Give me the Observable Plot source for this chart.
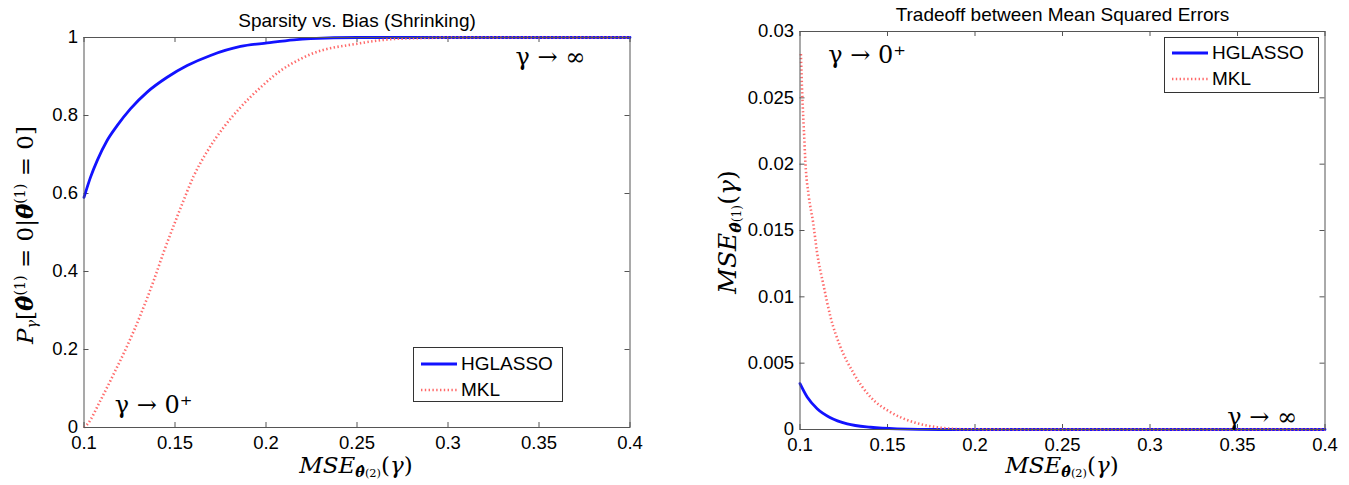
<!DOCTYPE html>
<html>
<head>
<meta charset="utf-8">
<script src="https://cdn.jsdelivr.net/npm/d3@7"></script>
<script src="https://cdn.jsdelivr.net/npm/@observablehq/plot@0.6"></script>
<style>
  body { margin: 0; background: #fff; }
  #wrap { position: relative; width: 1349px; height: 485px; overflow: hidden; background: #fff; }
  #wrap > svg { position: absolute; top: 0; }
  .math { position: absolute; font-family: "DejaVu Serif", "Liberation Serif", serif; font-style: italic;
          font-size: 23px; white-space: nowrap; line-height: 1; color: #000; transform: translate(-50%, -50%); }
  .math.rot { transform: translate(-50%, -50%) rotate(-90deg); }
  .math sub, .math sup { font-size: 0.62em; line-height: 0; }
  .math sub { vertical-align: -0.3em; }
  .math sup { vertical-align: 0.55em; }
  .up { font-style: normal; }
  .legend { position: absolute; border: 1px solid #333; background: #fff; box-sizing: border-box;
            font-family: "Liberation Sans", Arial, sans-serif; font-size: 19px; color: #000; }
  .legend .row { position: absolute; left: 7px; height: 24px; display: flex; align-items: center; }
  .legend .row svg { display: block; margin-right: 4px; }
</style>
</head>
<body>
<div id="wrap"></div>
<script>
// ---------- data ----------
const seriesNames = ["HGLASSO", "MKL"];
const xTicks = [0.1, 0.15, 0.2, 0.25, 0.3, 0.35, 0.4];
const leftYTicks = [0, 0.2, 0.4, 0.6, 0.8, 1];
const rightYTicks = [0, 0.005, 0.01, 0.015, 0.02, 0.025, 0.03];

const leftTitle = "Sparsity vs. Bias (Shrinking)";
const rightTitle = "Tradeoff between Mean Squared Errors";

// Left panel: P_gamma vs MSE
const leftHglassoX = [0.1, 0.1036, 0.1073, 0.1127, 0.1182, 0.1255, 0.1347, 0.1457, 0.1567, 0.1695, 0.186, 0.2007, 0.2153, 0.2245, 0.25, 0.3, 0.35, 0.4];
const leftHglassoY = [0.59, 0.642, 0.685, 0.736, 0.774, 0.817, 0.860, 0.898, 0.928, 0.954, 0.977, 0.986, 0.994, 0.997, 1, 1, 1, 1];
const leftMklX = [0.1, 0.1018, 0.109, 0.1164, 0.1237, 0.131, 0.1384, 0.1438, 0.1503, 0.153, 0.1603, 0.1677, 0.1768, 0.186, 0.197, 0.208, 0.219, 0.2245, 0.25, 0.27, 0.29, 0.3, 0.35, 0.4];
const leftMklY = [0, 0.008, 0.069, 0.138, 0.209, 0.288, 0.378, 0.450, 0.530, 0.562, 0.645, 0.708, 0.770, 0.821, 0.872, 0.915, 0.945, 0.957, 0.984, 0.996, 0.999, 1, 1, 1];

// Right panel: MSE theta(1) vs MSE theta(2)
const rightHglassoX = [0.1, 0.1041, 0.1098, 0.1174, 0.127, 0.1403, 0.1555, 0.18, 0.25, 0.3, 0.35, 0.4];
const rightHglassoY = [0.00346, 0.00245, 0.00157, 0.00089, 0.00043, 0.00017, 0.00005, 0, 0, 0, 0, 0];
const rightMklX = [0.1005, 0.1013, 0.1022, 0.1031, 0.105, 0.1075, 0.1098, 0.1136, 0.1174, 0.1231, 0.1307, 0.1403, 0.1517, 0.165, 0.1784, 0.1936, 0.25, 0.3, 0.35, 0.4];
const rightMklY = [0.0283, 0.0252, 0.02265, 0.0201, 0.0176, 0.0156, 0.0133, 0.01078, 0.0085, 0.00623, 0.00422, 0.00245, 0.00131, 0.00055, 0.00017, 0.00002, 0, 0, 0, 0];

// Annotations (data coordinates)
const leftNotes = [{x: 0.3563, y: 0.949, t: "γ → ∞"}, {x: 0.1382, y: 0.056, t: "γ → 0⁺"}];
const rightNotes = [{x: 0.1384, y: 0.0282, t: "γ → 0⁺"}, {x: 0.3641, y: 0.0009, t: "γ → ∞"}];

// ---------- styles ----------
const BLUE = "#1212ff";
const RED = "#ff6a6a";
const DASH = "1.4,2.4";
const REDW = 2.6;
const SANS = "'Liberation Sans', Arial, Helvetica, sans-serif";

function rows(xs, ys, s) { return xs.map((x, i) => ({x, y: ys[i], s})); }

function panel(cfg) {
  const H = 485;
  const innerW = cfg.width - cfg.ml - cfg.mr;
  const innerH = H - cfg.mt - cfg.mb;
  const fmt = d => String(d);
  const tk = "#555";
  const TL = 5;
  return Plot.plot({
    width: cfg.width, height: H,
    marginLeft: cfg.ml, marginRight: cfg.mr, marginTop: cfg.mt, marginBottom: cfg.mb,
    x: {domain: [0.1, 0.4]},
    y: {domain: cfg.yDomain},
    style: {fontFamily: SANS, fontSize: "18.5px", color: "#000", background: "transparent", overflow: "visible"},
    marks: [
      Plot.tickX(xTicks, {x: d => d, insetTop: innerH - TL, stroke: tk}),
      Plot.tickX(xTicks, {x: d => d, insetBottom: innerH - TL, stroke: tk}),
      Plot.tickY(cfg.yTicks, {y: d => d, insetRight: innerW - TL, stroke: tk}),
      Plot.tickY(cfg.yTicks, {y: d => d, insetLeft: innerW - TL, stroke: tk}),
      Plot.axisX({ticks: xTicks, tickSize: 0, tickPadding: 8, tickFormat: fmt, label: null, fill: "#000"}),
      Plot.axisY({ticks: cfg.yTicks, tickSize: 0, tickPadding: 6, tickFormat: fmt, label: null, fill: "#000"}),
      Plot.line(cfg.blue, {x: "x", y: "y", stroke: BLUE, strokeWidth: 2.8, curve: "monotone-x"}),
      Plot.line(cfg.red, {x: "x", y: "y", stroke: RED, strokeWidth: REDW, strokeDasharray: DASH, strokeLinecap: "butt", curve: "monotone-x"}),
      Plot.frame({stroke: "#555", strokeWidth: 1}),
      Plot.text(cfg.notes, {x: "x", y: "y", text: "t", fontFamily: "'DejaVu Serif', 'Liberation Serif', serif", fontSize: 24, fill: "#000"}),
      Plot.text([cfg.title], {frameAnchor: "top", lineAnchor: "bottom", dy: -11, fontSize: 19, fill: "#000"})
    ]
  });
}

const wrap = document.getElementById("wrap");

const left = panel({
  width: 675, ml: 83.5, mr: 45.5, mt: 37, mb: 58,
  yDomain: [0, 1], yTicks: leftYTicks,
  blue: rows(leftHglassoX, leftHglassoY, seriesNames[0]),
  red: rows(leftMklX, leftMklY, seriesNames[1]),
  notes: leftNotes, title: leftTitle
});
left.style.left = "0px";
wrap.appendChild(left);

const right = panel({
  width: 674, ml: 124.5, mr: 24.5, mt: 31, mb: 56,
  yDomain: [0, 0.03], yTicks: rightYTicks,
  blue: rows(rightHglassoX, rightHglassoY, seriesNames[0]),
  red: rows(rightMklX, rightMklY, seriesNames[1]),
  notes: rightNotes, title: rightTitle
});
right.style.left = "675px";
wrap.appendChild(right);

// ---------- axis labels (math) ----------
function addLabel(html, x, y, rot, size) {
  const d = document.createElement("div");
  d.className = "math" + (rot ? " rot" : "");
  d.style.left = x + "px";
  d.style.top = y + "px";
  if (size) d.style.fontSize = size + "px";
  d.innerHTML = html;
  wrap.appendChild(d);
}
const th = (mark) => "<b>θ" + mark + "</b>";
addLabel("P<sub>γ</sub><span class='up'>[</span>" + th("\u0302") + "<sup class='up'>(1)</sup><span class='up'> = 0|</span>" + th("\u0304") + "<sup class='up'>(1)</sup><span class='up'> = 0]</span>", 25, 235, true);
addLabel("MSE<sub>" + th("\u0302") + "<span class='up' style='font-size:0.8em'>(2)</span></sub><span class='up'>(</span>γ<span class='up'>)</span>", 356, 465, false);
addLabel("MSE<sub>" + th("\u0302") + "<span class='up' style='font-size:0.8em'>(1)</span></sub><span class='up'>(</span>γ<span class='up'>)</span>", 727, 232, true, 25);
addLabel("MSE<sub>" + th("\u0302") + "<span class='up' style='font-size:0.8em'>(2)</span></sub><span class='up'>(</span>γ<span class='up'>)</span>", 1062, 465, false);

// ---------- legends ----------
function addLegend(x, y, w, h, rowYs) {
  const L = document.createElement("div");
  L.className = "legend";
  Object.assign(L.style, {left: x + "px", top: y + "px", width: w + "px", height: h + "px"});
  seriesNames.forEach((name, i) => {
    const r = document.createElement("div");
    r.className = "row";
    r.style.top = (rowYs[i] - 12) + "px";
    const dash = i === 0 ? "" : `stroke-dasharray="${DASH}"`;
    const col = i === 0 ? BLUE : RED;
    const sw = i === 0 ? 2.8 : REDW;
    r.innerHTML = `<svg width="36" height="8"><line x1="0" x2="36" y1="4" y2="4" stroke="${col}" stroke-width="${sw}" ${dash}/></svg><span>${name}</span>`;
    L.appendChild(r);
  });
  wrap.appendChild(L);
}
addLegend(413, 347, 150, 55, [15.5, 42]);
addLegend(1164, 37, 155, 56, [15, 41]);
</script>
</body>
</html>
